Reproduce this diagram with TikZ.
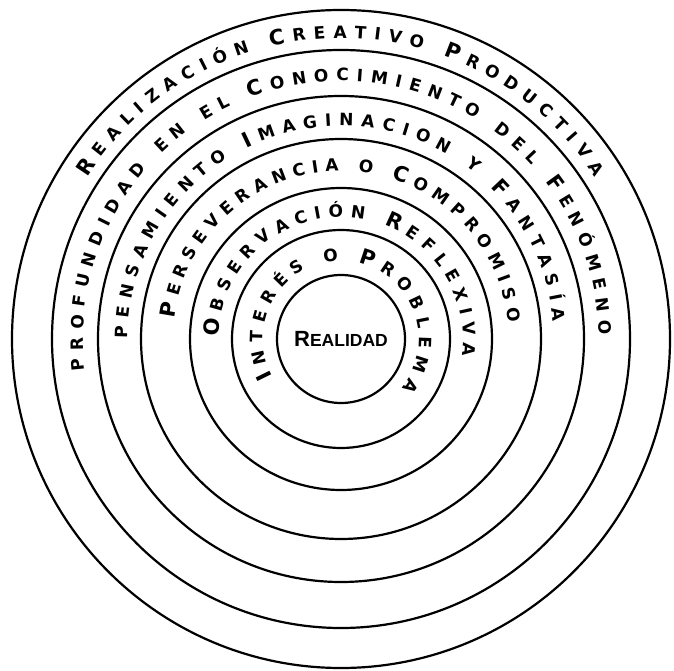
\documentclass[tikz,border=0pt]{standalone}
\usepackage{fontspec}
\setmainfont{DejaVu Sans}
\newfontfamily\centrefont{Liberation Sans}
\usetikzlibrary{decorations.text}
\newcommand\initcap{\fontsize{21}{24}\selectfont\bfseries}
\newcommand\restcap{\fontsize{17}{20}\selectfont\bfseries}

\begin{document}
\begin{tikzpicture}[x=1pt, y=1pt,
  ring/.style={line width=2.2pt},
  arctext/.style={decorate, decoration={text along path, text={#1}, text align={fit to path}}}]
  \useasboundingbox (0,0) rectangle (674,670);
  \coordinate (c) at (341,331);
  % Rings
  \foreach \r in {64,109,151,200,243,289,329}
    \draw[ring] (c) circle[radius=\r pt];
  % Centre
  \node[font=\centrefont\bfseries] (realidad) at (c)
    {{\fontsize{22}{24}\selectfont R}\fontsize{17.5}{20}\selectfont EALIDAD};
  % Texts along the rings (inner to outer)
  \path[arctext={|\initcap|I|\restcap|NTERÉS O |\initcap|P|\restcap|ROBLEMA}]
    (c) ++(209:78pt) arc[start angle=209, end angle=-39, radius=78pt];
  \path[arctext={|\initcap|O|\restcap|BSERVACIÓN |\initcap|R|\restcap|EFLEXIVA}]
    (c) ++(179:122pt) arc[start angle=179, end angle=-8, radius=122pt];
  \path[arctext={|\initcap|P|\restcap|ERSEVERANCIA O |\initcap|C|\restcap|OMPROMISO}]
    (c) ++(173:168pt) arc[start angle=173, end angle=5.6, radius=168pt];
  \path[arctext={|\restcap|PENSAMIENTO |\initcap|I|\restcap|MAGINACION Y |\initcap|F|\restcap|ANTASÍA}]
    (c) ++(180:213pt) arc[start angle=180, end angle=4.6, radius=213pt];
  \path[arctext={|\restcap|PROFUNDIDAD EN EL |\initcap|C|\restcap|ONOCIMIENTO DEL |\initcap|F|\restcap|ENÓMENO}]
    (c) ++(187:258pt) arc[start angle=187, end angle=1, radius=258pt];
  \path[arctext={|\initcap|R|\restcap|EALIZACIÓN |\initcap|C|\restcap|REATIVO |\initcap|P|\restcap|RODUCTIVA}]
    (c) ++(147.5:301pt) arc[start angle=147.5, end angle=32.5, radius=301pt];
\end{tikzpicture}
\end{document}
